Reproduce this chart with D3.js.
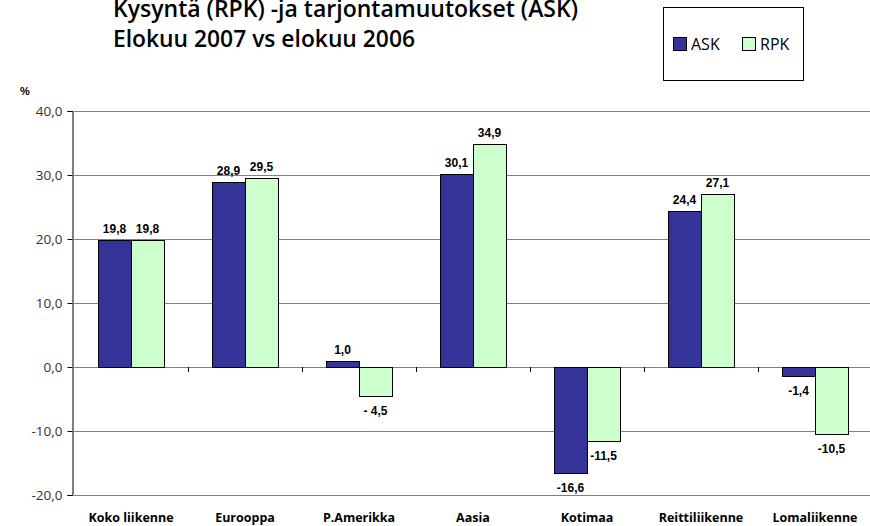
<!DOCTYPE html>
<html>
<head>
<meta charset="utf-8">
<script src="https://cdn.jsdelivr.net/npm/d3@7"></script>
<style>
  body { margin: 0; background: #fff; }
  svg { display: block; }
</style>
</head>
<body>
<div class="chart"></div>
<script>
// data
const categories = ['Koko liikenne', 'Eurooppa', 'P.Amerikka', 'Aasia', 'Kotimaa', 'Reittiliikenne', 'Lomaliikenne'];
const series = ['ASK', 'RPK'];
const askValues = [19.8, 28.9, 1.0, 30.1, -16.6, 24.4, -1.4];
const rpkValues = [19.8, 29.5, -4.5, 34.9, -11.5, 27.1, -10.5];
const askLabels = ['19,8', '28,9', '1,0', '30,1', '-16,6', '24,4', '-1,4'];
const rpkLabels = ['19,8', '29,5', '- 4,5', '34,9', '-11,5', '27,1', '-10,5'];
const yTicks = [-20, -10, 0, 10, 20, 30, 40];
const titleLines = ['Kysyntä (RPK) -ja tarjontamuutokset (ASK)', 'Elokuu 2007 vs elokuu 2006'];

const colors = {ASK: '#333399', RPK: '#ccffcc'};
const width = 870, height = 526;
const margin = {top: 111, right: -2, bottom: 31, left: 74};

const svg = d3.select('.chart').append('svg')
    .attr('width', width)
    .attr('height', height)
    .style('font-family', '"Liberation Sans", Arial, sans-serif');

const x = d3.scaleBand()
    .domain(categories)
    .range([margin.left, width - margin.right]);

const x1 = d3.scaleBand()
    .domain(series)
    .range([0, 66]);

const y = d3.scaleLinear()
    .domain([-20, 40])
    .range([height - margin.bottom, margin.top]);

// gridlines
svg.append('g')
    .selectAll('line')
    .data(yTicks)
    .enter().append('line')
    .attr('x1', margin.left)
    .attr('x2', width)
    .attr('y1', d => Math.round(y(d)) + 0.5)
    .attr('y2', d => Math.round(y(d)) + 0.5)
    .attr('stroke', '#808080')
    .attr('stroke-width', 1);

// y axis
const yAxis = svg.append('g')
    .attr('transform', `translate(${margin.left - 1.5},0)`)
    .call(d3.axisLeft(y).tickValues(yTicks).tickSize(5).tickPadding(5)
        .tickFormat(d => d3.format('.1f')(d).replace('.', ',').replace('−', '-')));
yAxis.select('.domain').attr('stroke', '#000');
yAxis.selectAll('.tick line').attr('stroke', '#000');
yAxis.selectAll('.tick text')
    .attr('fill', '#333')
    .style('font-family', '"Open Sans", sans-serif')
    .style('font-size', '13.5px');
yAxis.selectAll('.tick')
    .attr('transform', d => `translate(0,${Math.round(y(d)) + 0.5})`);

svg.append('text')
    .attr('x', 20)
    .attr('y', 95)
    .attr('font-size', 11)
    .attr('font-weight', 'bold')
    .text('%');

// bars
const rows = categories.map((c, i) => ({
    name: c,
    values: [
        {key: 'ASK', value: askValues[i], label: askLabels[i]},
        {key: 'RPK', value: rpkValues[i], label: rpkLabels[i]}
    ]
}));

const group = svg.append('g')
    .selectAll('g')
    .data(rows)
    .enter().append('g')
    .attr('transform', d => `translate(${Math.round(x(d.name) + x.bandwidth() / 2 - 33)},0)`);

group.selectAll('rect')
    .data(d => d.values)
    .enter().append('rect')
    .attr('x', d => x1(d.key) + 0.5)
    .attr('width', x1.bandwidth())
    .attr('y', d => Math.round(y(Math.max(0, d.value))) + 0.5)
    .attr('height', d => Math.abs(Math.round(y(d.value)) - Math.round(y(0))))
    .attr('fill', d => colors[d.key])
    .attr('stroke', '#000')
    .attr('stroke-width', 1);

group.selectAll('text')
    .data(d => d.values)
    .enter().append('text')
    .attr('x', d => x1(d.key) + x1.bandwidth() / 2)
    .attr('y', d => d.value >= 0 ? y(d.value) - 7 : y(d.value) + 19)
    .attr('text-anchor', 'middle')
    .attr('font-size', 12)
    .attr('font-weight', 'bold')
    .text(d => d.label);

// category ticks under zero line
svg.append('g')
    .selectAll('line')
    .data(categories.slice(1))
    .enter().append('line')
    .attr('x1', d => Math.round(x(d)) + 0.5)
    .attr('x2', d => Math.round(x(d)) + 0.5)
    .attr('y1', Math.round(y(0)))
    .attr('y2', Math.round(y(0)) + 5)
    .attr('stroke', '#000');

// category labels
svg.append('g')
    .selectAll('text')
    .data(categories)
    .enter().append('text')
    .attr('x', d => x(d) + x.bandwidth() / 2)
    .attr('y', 522)
    .attr('text-anchor', 'middle')
    .attr('font-size', 12.5)
    .attr('font-weight', 'bold')
    .style('font-family', '"Open Sans", sans-serif')
    .text(d => d);

// title
const titleWidths = [465, 302];
svg.append('g')
    .selectAll('text')
    .data(titleLines)
    .enter().append('text')
    .attr('x', 113)
    .attr('y', (d, i) => 17 + i * 30)
    .attr('font-size', 24)
    .attr('font-weight', 600)
    .attr('textLength', (d, i) => titleWidths[i])
    .attr('lengthAdjust', 'spacingAndGlyphs')
    .style('font-family', '"Open Sans", sans-serif')
    .text(d => d);

// legend
const legend = svg.append('g');
legend.append('rect')
    .attr('x', 663.5).attr('y', 7.5)
    .attr('width', 140).attr('height', 73)
    .attr('fill', '#fff')
    .attr('stroke', '#000');
const item = legend.selectAll('g')
    .data(series)
    .enter().append('g')
    .attr('transform', (d, i) => `translate(${673 + i * 69},0)`);
item.append('rect')
    .attr('x', 0.5).attr('y', 37.5)
    .attr('width', 13).attr('height', 13)
    .attr('fill', d => colors[d])
    .attr('stroke', '#000');
item.append('text')
    .attr('x', 18)
    .attr('y', 50)
    .attr('font-size', 16)
    .style('font-family', '"Open Sans", sans-serif')
    .text(d => d);
</script>
</body>
</html>
